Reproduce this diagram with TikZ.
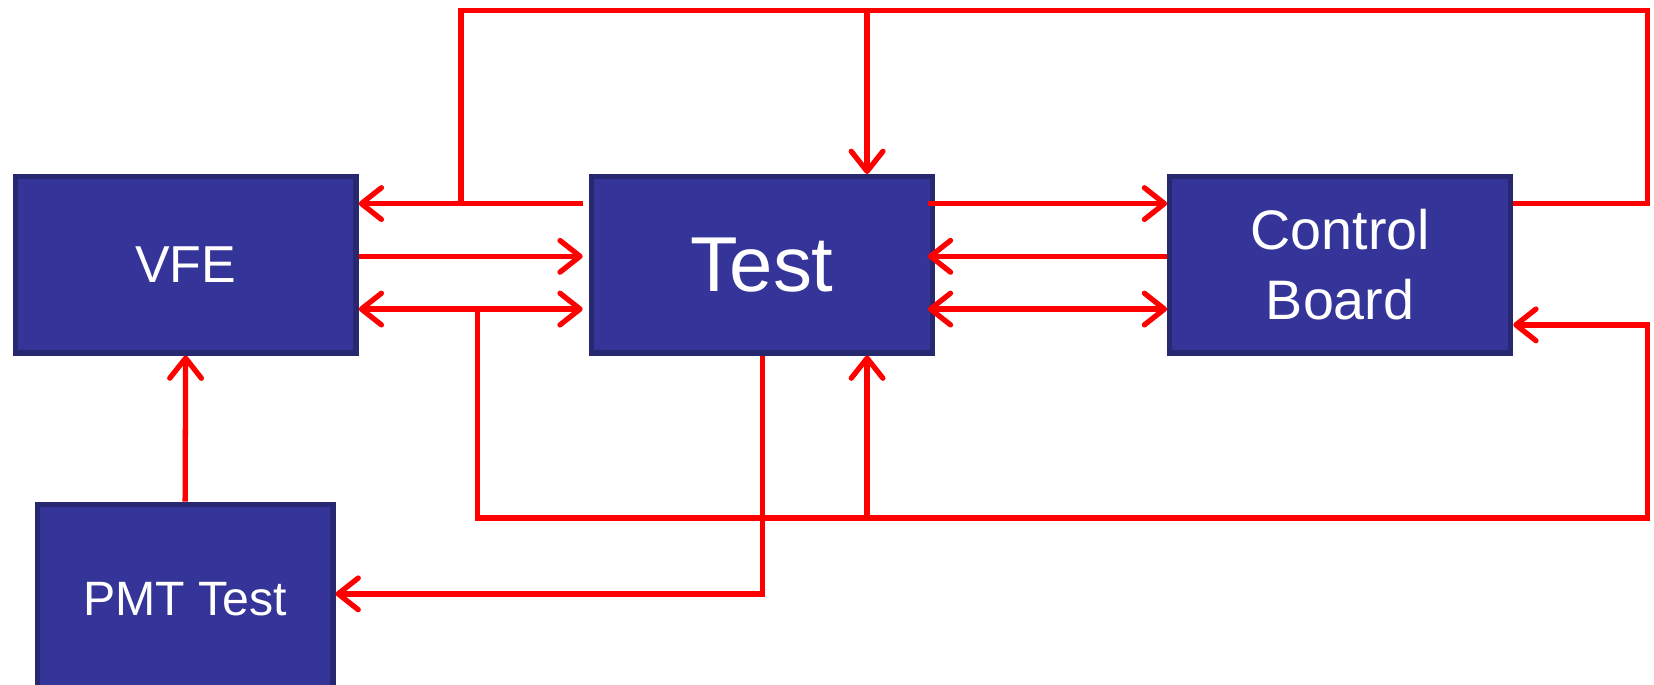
\documentclass[tikz,border=0pt]{standalone}
\usepackage{fontspec}
\setmainfont{Liberation Sans}
\usetikzlibrary{arrows.meta}
\definecolor{boxfill}{HTML}{353599}
\definecolor{boxline}{HTML}{282870}
\definecolor{wire}{HTML}{FF0000}
\tikzset{
  block/.style={draw=boxline, fill=boxfill, line width=0.05cm, text=white,
    minimum width=3.23cm, minimum height=1.67cm, inner sep=0pt, align=center},
  wireline/.style={draw=wire, line width=0.05cm},
  arr/.style={wireline, -{Straight Barb[length=0.19cm, width=0.3cm, round]}},
  darr/.style={wireline, {Straight Barb[length=0.19cm, width=0.3cm, round]}-{Straight Barb[length=0.19cm, width=0.3cm, round]}}
}
\begin{document}
\begin{tikzpicture}[x=0.01cm, y=-0.01cm]
\useasboundingbox (0,0) rectangle (1568,649);
\clip (0,0) rectangle (1568,649);

% blocks
\node[block, font=\fontsize{14}{16}\selectfont] (VFE) at (176,251) {VFE};
\node[block, font=\fontsize{21}{24}\selectfont] (Test) at (722.5,251) {Test};
\node[block, font=\fontsize{15}{18}\selectfont] (CB) at (1270.5,251) {Control\\[1pt]Board};
\node[block, minimum width=2.8cm, minimum height=1.8cm, font=\fontsize{13}{15}\selectfont] (PMT) at (175.5,568) {PMT Test};

% corner and junction points
\coordinate (jTop) at (437,193);
\coordinate (jBot) at (453,293);
\coordinate (topL) at (437,10);
\coordinate (topM) at (822,10);
\coordinate (topR) at (1562,10);
\coordinate (topRb) at (1562,193);
\coordinate (botL) at (453,491);
\coordinate (botM) at (822,491);
\coordinate (botR) at (1562,491);
\coordinate (botRt) at (1562,308);
\coordinate (pmtCorner) at (723,563);

% VFE <-> Test
\draw[arr] ([xshift=-0.06cm]Test.west |- jTop) -- (VFE.east |- jTop);
\draw[arr] (VFE.east |- 0,243) -- ([xshift=-0.06cm]Test.west |- 0,243);
\draw[darr] (VFE.east |- jBot) -- ([xshift=-0.06cm]Test.west |- jBot);

% Test <-> Control Board
\draw[arr] ([xshift=-0.07cm]Test.east |- 0,193) -- (CB.west |- 0,193);
\draw[arr] (CB.west |- 0,243) -- ([xshift=-0.07cm]Test.east |- 0,243);
\draw[darr] ([xshift=-0.07cm]Test.east |- 0,293) -- (CB.west |- 0,293);

% upper loop from Control Board
\draw[wireline] (CB.east |- topRb) -- (topRb) -- (topR) -- (topL) -- (jTop);
\draw[arr] (topM) -- (Test.north -| topM);

% lower loop back to Control Board
\draw[arr] (jBot) -- (botL) -- (botR) -- (botRt) -- (CB.east |- botRt);
\draw[arr] (botM) -- (Test.south -| botM);

% Test -> PMT Test, PMT Test -> VFE
\draw[arr] (Test.south -| pmtCorner) -- (pmtCorner) -- (PMT.east |- pmtCorner);
\draw[arr] (PMT.north) -- (VFE.south);
\end{tikzpicture}
\end{document}
